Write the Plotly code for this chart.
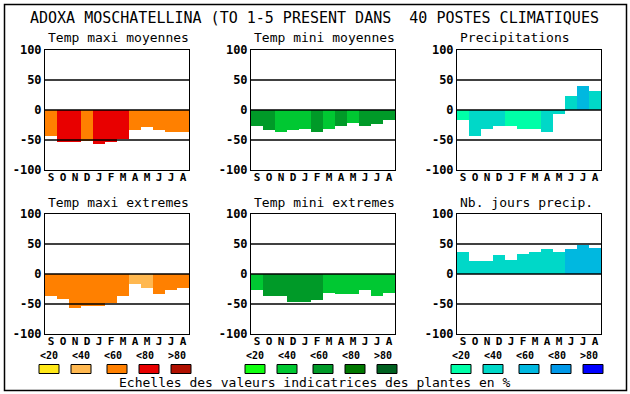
import plotly.graph_objects as go

W, H = 630, 394

months = ["S", "O", "N", "D", "J", "F", "M", "A", "M", "J", "J", "A"]

# colour scales (classes <20, <40, <60, <80, >80)
class_labels = ["<20", "<40", "<60", "<80", ">80"]
warm = ["#FFE818", "#FFB850", "#FF8000", "#E80000", "#B01000"]
green = ["#10FF10", "#00C832", "#009A28", "#007800", "#006020"]
blue = ["#00FFA8", "#00D8C8", "#00B8E0", "#0098E8", "#0000FF"]

titles = ["Temp maxi moyennes", "Temp mini moyennes", "Precipitations",
          "Temp maxi extremes", "Temp mini extremes", "Nb. jours precip."]

tmax_moy = [-44, -54, -54, -51, -57, -54, -49, -34, -28, -34, -37, -37]
tmax_moy_cls = [2, 3, 3, 2, 3, 3, 3, 2, 2, 2, 2, 2]

tmin_moy = [-26, -34, -36, -34, -32, -37, -31, -27, -21, -27, -24, -17]
tmin_moy_cls = [2, 2, 1, 1, 1, 2, 1, 2, 1, 2, 2, 2]

precip = [-16, -44, -32, -26, -27, -32, -31, -37, -6, 24, 40, 31]
precip_cls = [0, 1, 1, 1, 0, 0, 0, 1, 1, 1, 2, 1]

tmax_ext = [-36, -42, -57, -54, -54, -49, -37, -16, -24, -34, -27, -24]
tmax_ext_cls = [2, 2, 2, 2, 2, 2, 2, 1, 1, 2, 2, 2]

tmin_ext = [-27, -36, -37, -46, -46, -44, -31, -34, -34, -26, -36, -31]
tmin_ext_cls = [1, 2, 2, 2, 2, 2, 1, 1, 1, 1, 1, 1]

jours = [37, 22, 21, 31, 24, 34, 36, 41, 37, 42, 49, 44]
jours_cls = [1, 1, 1, 1, 1, 1, 1, 1, 1, 2, 2, 2]

panels = [
    (tmax_moy, tmax_moy_cls, warm),
    (tmin_moy, tmin_moy_cls, green),
    (precip, precip_cls, blue),
    (tmax_ext, tmax_ext_cls, warm),
    (tmin_ext, tmin_ext_cls, green),
    (jours, jours_cls, blue),
]

# layout geometry (pixels)
col_left = [45, 251, 457]
plot_w = 144
row_top = [50, 214]
plot_h = 120

MONO = "DejaVu Sans Mono"


def px_x(x):
    return x / W


def px_y(y):
    return 1 - y / H


fig = go.Figure()
layout = dict(
    template="none",
    width=W, height=H, autosize=False,
    margin=dict(l=0, r=0, t=0, b=0, pad=0, autoexpand=False),
    paper_bgcolor="white", plot_bgcolor="white",
    showlegend=False, bargap=0,
    font=dict(family=MONO, color="black"),
)
shapes = []
annotations = []

for i, (vals, cls, scale) in enumerate(panels):
    r, c = divmod(i, 3)
    n = i + 1
    xa = "x" if n == 1 else f"x{n}"
    ya = "y" if n == 1 else f"y{n}"
    fig.add_trace(go.Bar(
        x=list(range(len(months))), y=vals,
        marker=dict(color=[scale[k] for k in cls], line=dict(width=0)),
        width=1, xaxis=xa, yaxis=ya, hoverinfo="skip",
    ))
    x0, y0 = col_left[c], row_top[r]
    layout[f"xaxis{n}"] = dict(
        domain=[px_x(x0), px_x(x0 + plot_w)],
        anchor=ya, range=[-0.5, 11.5], automargin=False,
        tickmode="array", tickvals=list(range(12)), ticktext=months,
        showgrid=False, zeroline=False, ticks="", ticklabelstandoff=-3,
        showline=True, linecolor="black", linewidth=1, mirror=True,
        tickfont=dict(family=MONO, size=11, color="black", weight="bold"),
        fixedrange=True,
    )
    layout[f"yaxis{n}"] = dict(
        domain=[px_y(y0 + plot_h), px_y(y0)],
        anchor=xa, range=[-100, 100], automargin=False,
        tickmode="array", tickvals=[-100, -50, 0, 50, 100],
        ticktext=["-100", "-50", "0", "50", "100"],
        showgrid=False, zeroline=False, ticks="",
        showline=True, linecolor="black", linewidth=1, mirror=True,
        tickfont=dict(family=MONO, size=12, color="black", weight="bold"),
        fixedrange=True,
    )
    for v in (50, 0, -50):
        shapes.append(dict(
            type="line", xref=f"{xa} domain", yref=ya,
            x0=0, x1=1, y0=v, y1=v,
            line=dict(color="black", width=1.3), layer="above",
        ))
    annotations.append(dict(
        text=titles[i], xref="paper", yref="paper",
        x=px_x(x0 + 1), y=px_y(y0 - 12),
        xanchor="left", yanchor="middle", showarrow=False,
        font=dict(family=MONO, size=13, color="black"),
    ))

# main title
annotations.append(dict(
    text="ADOXA MOSCHATELLINA (TO 1-5 PRESENT DANS\u00a0\u00a040 POSTES CLIMATIQUES",
    xref="paper", yref="paper", x=px_x(314), y=px_y(18),
    xanchor="center", yanchor="middle", showarrow=False,
    font=dict(family=MONO, size=15, color="black"),
))

# colour class legends
for g, scale in zip([39, 245, 451], [warm, green, blue]):
    lab_off = [0, 32, 64, 96, 128]
    box_off = [0, 32, 68, 100, 132]
    for k in range(5):
        annotations.append(dict(
            text=class_labels[k].replace("<", "&lt;").replace(">", "&gt;"),
            xref="paper", yref="paper",
            x=px_x(g + lab_off[k] - 1), y=px_y(355),
            xanchor="left", yanchor="middle", showarrow=False,
            font=dict(family=MONO, size=10, color="black", weight="bold"),
        ))
        bx = g + box_off[k]
        shapes.append(dict(
            type="rect", xref="paper", yref="paper",
            x0=px_x(bx), x1=px_x(bx + 20), y0=px_y(373.5), y1=px_y(364.5),
            fillcolor=scale[k], line=dict(color="black", width=1),
        ))

annotations.append(dict(
    text="Echelles des valeurs indicatrices des plantes en %",
    xref="paper", yref="paper", x=px_x(315), y=px_y(382),
    xanchor="center", yanchor="middle", showarrow=False,
    font=dict(family=MONO, size=13, color="black"),
))

# outer frame
shapes.append(dict(
    type="rect", xref="paper", yref="paper",
    x0=px_x(4.5), x1=px_x(626.5), y0=px_y(390.5), y1=px_y(4.5),
    line=dict(color="black", width=1.5), fillcolor="rgba(0,0,0,0)",
))

layout["shapes"] = shapes
layout["annotations"] = annotations
fig.update_layout(**layout)
fig.write_html(
    "out.html",
    config={"displayModeBar": False, "responsive": False},
    post_script="document.body.style.margin='0';document.body.style.padding='0';",
)
